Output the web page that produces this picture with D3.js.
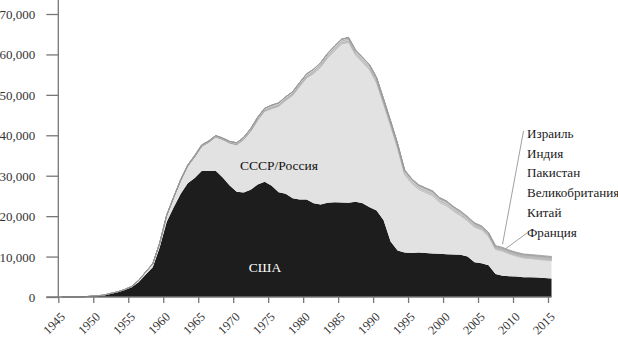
<!DOCTYPE html>
<html>
<head>
<meta charset="utf-8">
<script src="https://cdn.jsdelivr.net/npm/d3@7"></script>
<style>
  html, body { margin: 0; padding: 0; background: #fff; }
  svg { display: block; }
</style>
</head>
<body>
<svg id="chart" width="618" height="338"></svg>
<script>
// Nuclear warhead stockpiles by country, 1945–2015
const years = d3.range(1945, 2016);

const usa = [
  2, 9, 13, 50, 170, 299, 438, 841, 1169, 1703,
  2422, 3692, 5543, 7345, 12298, 18638, 22229, 25540, 28133, 29463,
  31139, 31175, 31255, 29561, 27552, 26008, 25830, 26516, 27835, 28537,
  27519, 25914, 25542, 24418, 24138, 24104, 23208, 22886, 23305, 23459,
  23368, 23317, 23575, 23205, 22217, 21392, 19008, 13708, 11511, 10979,
  10904, 11011, 10903, 10732, 10685, 10577, 10526, 10457, 10027, 8570,
  8360, 7853, 5709, 5273, 5113, 5066, 4897, 4881, 4804, 4717,
  4571
];

const ussrRussia = [
  0, 0, 0, 0, 1, 5, 25, 50, 120, 150,
  200, 426, 660, 869, 1060, 1605, 2471, 3322, 4238, 5221,
  6129, 7089, 8339, 9399, 10538, 11643, 13092, 14478, 15915, 17385,
  19055, 21205, 23044, 25393, 27935, 30062, 32049, 33952, 35804, 37431,
  39197, 39650, 36200, 34800, 33950, 31500, 28550, 28500, 25150, 19250,
  17200, 15600, 14900, 14300, 12700, 11950, 10700, 9650, 8750, 8700,
  8200, 7100, 6050, 6050, 5500, 5000, 4750, 4600, 4500, 4400,
  4400
];

const france = [
  0, 0, 0, 0, 0, 0, 0, 0, 0, 0,
  0, 0, 0, 0, 0, 0, 0, 0, 0, 4,
  32, 36, 36, 36, 36, 36, 45, 70, 116, 145,
  188, 212, 228, 235, 235, 250, 274, 274, 279, 280,
  360, 355, 420, 411, 412, 504, 538, 540, 525, 510,
  500, 450, 450, 450, 450, 470, 350, 350, 350, 350,
  350, 350, 300, 300, 300, 300, 300, 300, 300, 300,
  300
];

const china = [
  0, 0, 0, 0, 0, 0, 0, 0, 0, 0,
  0, 0, 0, 0, 0, 0, 0, 0, 0, 1,
  5, 20, 25, 35, 50, 75, 100, 130, 150, 170,
  185, 190, 200, 220, 235, 280, 330, 360, 380, 415,
  426, 423, 415, 412, 431, 433, 435, 435, 435, 435,
  400, 400, 400, 400, 400, 400, 400, 400, 350, 300,
  235, 235, 235, 235, 240, 240, 240, 240, 250, 250,
  260
];

const uk = [
  0, 0, 0, 0, 0, 0, 0, 0, 1, 5,
  10, 15, 20, 22, 25, 30, 50, 205, 280, 310,
  310, 270, 270, 280, 308, 375, 420, 450, 450, 450,
  492, 492, 492, 492, 492, 492, 492, 492, 492, 492,
  422, 422, 422, 422, 422, 422, 422, 350, 300, 250,
  234, 234, 281, 281, 281, 281, 281, 281, 281, 281,
  281, 281, 225, 225, 225, 225, 225, 225, 225, 225,
  215
];

const pakistan = [
  0, 0, 0, 0, 0, 0, 0, 0, 0, 0,
  0, 0, 0, 0, 0, 0, 0, 0, 0, 0,
  0, 0, 0, 0, 0, 0, 0, 0, 0, 0,
  0, 0, 0, 0, 0, 0, 0, 0, 0, 0,
  0, 0, 0, 0, 0, 0, 0, 0, 0, 0,
  0, 0, 0, 5, 8, 13, 21, 30, 38, 45,
  60, 60, 60, 60, 70, 70, 90, 100, 110, 120,
  120
];

const india = [
  0, 0, 0, 0, 0, 0, 0, 0, 0, 0,
  0, 0, 0, 0, 0, 0, 0, 0, 0, 0,
  0, 0, 0, 0, 0, 0, 0, 0, 0, 1,
  1, 1, 1, 1, 1, 1, 1, 1, 1, 1,
  1, 1, 1, 4, 6, 8, 10, 12, 14, 16,
  18, 21, 24, 27, 30, 33, 36, 40, 45, 50,
  55, 60, 65, 70, 75, 80, 85, 90, 100, 110,
  110
];

const israel = [
  0, 0, 0, 0, 0, 0, 0, 0, 0, 0,
  0, 0, 0, 0, 0, 0, 0, 0, 0, 0,
  0, 0, 2, 4, 6, 8, 11, 13, 15, 17,
  20, 22, 24, 26, 29, 31, 33, 35, 38, 40,
  42, 44, 47, 49, 51, 53, 56, 58, 60, 62,
  64, 67, 69, 71, 73, 75, 78, 80, 80, 80,
  80, 80, 80, 80, 80, 80, 80, 80, 80, 80,
  80
];

const seriesKeys = ["usa", "ussr", "france", "china", "uk", "pakistan", "india", "israel"];
const seriesValues = [usa, ussrRussia, france, china, uk, pakistan, india, israel];

const yTickValues = [0, 10000, 20000, 30000, 40000, 50000, 60000, 70000];
const xTickValues = [1945, 1950, 1955, 1960, 1965, 1970, 1975, 1980, 1985,
                     1990, 1995, 2000, 2005, 2010, 2015];

const smallLabels = ["Израиль", "Индия", "Пакистан", "Великобритания", "Китай", "Франция"];
const bigLabels = { ussr: "СССР/Россия", usa: "США" };

// ---- table for the stack layout ----
const table = years.map((yr, i) => {
  const row = { year: yr };
  seriesKeys.forEach((k, j) => { row[k] = seriesValues[j][i]; });
  return row;
});

const svg = d3.select("#chart");
const fontSerif = "Liberation Serif, Times New Roman, DejaVu Serif, serif";

const x = d3.scaleLinear().domain([1945, 2015]).range([58.3, 548]);
const y = d3.scaleLinear().domain([0, 70000]).range([297, 14]);

// each annual value is placed at mid-year
const xPos = yr => x(yr + 0.5);

const stack = d3.stack().keys(seriesKeys);
const layers = stack(table);

const area = d3.area()
  .x(d => xPos(d.data.year))
  .y0(d => y(d[0]))
  .y1(d => y(d[1]))
  .curve(d3.curveLinear);

const fills = {
  usa: "#1d1d1d", ussr: "#e2e2e2",
  france: "#d6d6d6", china: "#dedede", uk: "#d6d6d6",
  pakistan: "#dedede", india: "#d6d6d6", israel: "#dedede"
};

const plot = svg.append("g");
plot.selectAll("path.layer")
  .data(layers)
  .join("path")
  .attr("class", "layer")
  .attr("d", area)
  .attr("fill", d => fills[d.key])
  .attr("stroke", d => (d.key === "usa" || d.key === "ussr") ? "none" : "#969696")
  .attr("stroke-width", 0.45)
  .attr("stroke-linejoin", "round");

// ---- axes ----
const axisColor = "#777";
const yAxis = svg.append("g")
  .attr("transform", `translate(${x(1945)},0)`)
  .call(d3.axisLeft(y).tickValues(yTickValues).tickSize(12).tickPadding(11)
    .tickFormat(d3.format(",")));
yAxis.attr("font-family", fontSerif).attr("font-size", 13);
yAxis.select(".domain").remove();
yAxis.selectAll(".tick line").attr("stroke", axisColor).attr("stroke-width", 1.3);
yAxis.selectAll(".tick text")
  .attr("fill", "#333").attr("dy", "0.35em");

svg.append("line")
  .attr("x1", x(1945)).attr("x2", x(1945))
  .attr("y1", 0).attr("y2", y(0))
  .attr("stroke", axisColor).attr("stroke-width", 1.3);

const xAxis = svg.append("g")
  .attr("transform", `translate(0,${y(0)})`)
  .call(d3.axisBottom(x).tickValues(xTickValues).tickSize(6).tickFormat(d3.format("d")));
xAxis.attr("font-family", fontSerif).attr("font-size", 12.5);
xAxis.select(".domain").remove();
xAxis.selectAll(".tick line").attr("stroke", axisColor).attr("stroke-width", 1.3);
xAxis.selectAll(".tick text")
  .attr("fill", "#333")
  .attr("text-anchor", "end")
  .attr("transform", "translate(4,17.5) rotate(-45)")
  .attr("dy", "0.35em").attr("y", 0).attr("x", 0);

svg.append("line")
  .attr("x1", x(1945) - 12).attr("x2", xPos(2015))
  .attr("y1", y(0)).attr("y2", y(0))
  .attr("stroke", axisColor).attr("stroke-width", 1.3);

// ---- labels inside the areas ----
svg.append("text")
  .attr("x", 279).attr("y", 170)
  .attr("text-anchor", "middle")
  .attr("font-family", fontSerif).attr("font-size", 13.5)
  .attr("fill", "#111")
  .text(bigLabels.ussr);

svg.append("text")
  .attr("x", 265).attr("y", 272)
  .attr("text-anchor", "middle")
  .attr("font-family", fontSerif).attr("font-size", 13.5)
  .attr("fill", "#fff")
  .text(bigLabels.usa);

// ---- labels for the small arsenals ----
const labelX = 527;
svg.append("g").selectAll("text")
  .data(smallLabels)
  .join("text")
  .attr("x", labelX)
  .attr("y", (d, i) => 138 + i * 19.7)
  .attr("font-family", fontSerif).attr("font-size", 13.1)
  .attr("fill", "#1a1a1a")
  .text(d => d);

// leader lines: Israel to the top of the stack, France to the top of its band
const idx2008 = years.indexOf(2008);
const israelLayer = layers.find(l => l.key === "israel");
const franceLayer = layers.find(l => l.key === "france");
const israelPt = [xPos(2008), y(israelLayer[idx2008][1]) - 3];
const franceTop = (franceLayer[idx2008][1] + franceLayer[idx2008 + 1][1]) / 2;
const francePt = [x(2009), y(franceTop) - 3];

svg.append("line")
  .attr("x1", labelX - 3.5).attr("y1", 131)
  .attr("x2", israelPt[0]).attr("y2", israelPt[1])
  .attr("stroke", "#888").attr("stroke-width", 0.8);
svg.append("line")
  .attr("x1", labelX).attr("y1", 233)
  .attr("x2", francePt[0]).attr("y2", francePt[1])
  .attr("stroke", "#888").attr("stroke-width", 0.8);
</script>
</body>
</html>
